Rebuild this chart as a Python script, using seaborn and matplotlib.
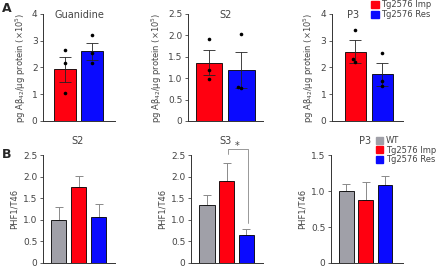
import matplotlib
matplotlib.use("Agg")
import numpy as np
import pandas as pd
import matplotlib.pyplot as plt
import seaborn as sb
from matplotlib.patches import Patch

sb.set_style("ticks")
plt.rcParams['font.family'] = ['DejaVu Sans']
plt.rcParams['font.size'] = 6

# colores
c_wt, c_imp, c_res = '#a0a0a8', '#ff0010', '#0a0aff'
txt = '#444444'

# Datos panel A (pg Ab42/ug protein x10^5)
grupos_a = ['Tg2576 Imp', 'Tg2576 Res']
guan_media = [1.93, 2.60]
guan_sem = [0.47, 0.32]
guan_imp = [2.66, 2.15, 1.04]
guan_res = [3.22, 2.55, 2.18]

s2a_media = [1.36, 1.18]
s2a_sem = [0.29, 0.42]
s2a_imp = [1.92, 1.19, 0.97]
s2a_res = [2.02, 0.78, 0.80]

p3a_media = [2.59, 1.74]
p3a_sem = [0.43, 0.42]
p3a_imp = [3.40, 2.30, 2.20]
p3a_res = [2.53, 1.50, 1.32]

# Datos panel B (PHF1/T46)
grupos_b = ['WT', 'Tg2576 Imp', 'Tg2576 Res']
s2b_media = [0.99, 1.76, 1.06]
s2b_sem = [0.31, 0.25, 0.31]
s3b_media = [1.34, 1.91, 0.66]
s3b_sem = [0.23, 0.41, 0.13]
p3b_media = [0.995, 0.88, 1.09]
p3b_sem = [0.10, 0.25, 0.12]

fig = plt.figure(figsize=(4.36, 2.67), dpi=100)

def estilo(ax, ymax, yticks, ylabel, xlim):
    ax.set_ylim(0, ymax)
    ax.set_yticks(yticks)
    ax.set_xlim(*xlim)
    ax.set_xticks([])
    ax.set_xlabel('')
    ax.set_ylabel(ylabel, fontsize=6, color=txt, labelpad=3)
    ax.tick_params(axis='y', labelsize=6.5, colors=txt, length=2.5, width=0.6, pad=1.5)
    for s in ['top', 'right']:
        ax.spines[s].set_visible(False)
    for s in ['left', 'bottom']:
        ax.spines[s].set_linewidth(0.7)
        ax.spines[s].set_color('#333333')

def panel_a(rect, media, sem, imp, res, ymax, yticks, titulo, tpos, xlim, ancho):
    ax = fig.add_axes(rect)
    df = pd.DataFrame({'grupo': grupos_a, 'valor': media})
    sb.barplot(data=df, x='grupo', y='valor', hue='grupo', palette=[c_imp, c_res],
               saturation=1, width=ancho, edgecolor='black', linewidth=0.6,
               legend=False, ax=ax)
    ax.errorbar(range(2), media, yerr=sem, fmt='none', ecolor='#222222',
                elinewidth=0.6, capsize=4, capthick=0.6, zorder=4)
    pts = pd.DataFrame({'grupo': [grupos_a[0]] * len(imp) + [grupos_a[1]] * len(res),
                        'valor': imp + res})
    sb.swarmplot(data=pts, x='grupo', y='valor', color='black', size=2.6, ax=ax, zorder=5)
    estilo(ax, ymax, yticks, 'pg A\u03b2$_{42}$/\u03bcg protein (\u00d710$^5$)', xlim)
    ax.text(tpos, ymax * 0.99, titulo, ha='center', va='center', fontsize=7, color=txt)
    return ax

def panel_b(rect, media, sem, ymax, yticks, titulo, xlim):
    ax = fig.add_axes(rect)
    df = pd.DataFrame({'grupo': grupos_b, 'valor': media})
    sb.barplot(data=df, x='grupo', y='valor', hue='grupo', palette=[c_wt, c_imp, c_res],
               saturation=1, width=0.77, edgecolor='black', linewidth=0.6,
               legend=False, ax=ax, zorder=3)
    ax.errorbar(range(3), media, yerr=[np.zeros(3), sem], fmt='none', ecolor='#8a8a8a',
                elinewidth=0.7, capsize=3, capthick=0.7, zorder=2)
    estilo(ax, ymax, yticks, 'PHF1/T46', xlim)
    ax.text(0.95, ymax * 1.13, titulo, ha='center', va='center', fontsize=7, color=txt)
    return ax

a1 = panel_a([0.099, 0.547, 0.165, 0.401], guan_media, guan_sem, guan_imp, guan_res,
             4, [0, 1, 2, 3, 4], 'Guanidine', 0.55, (-0.83, 1.89), 0.83)
a2 = panel_a([0.431, 0.547, 0.172, 0.401], s2a_media, s2a_sem, s2a_imp, s2a_res,
             2.5, [0, 0.5, 1.0, 1.5, 2.0, 2.5], 'S2', 0.5, (-0.65, 1.66), 0.82)
a2.set_yticklabels(['0', '0.5', '1.0', '1.5', '2.0', '2.5'])
a3 = panel_a([0.761, 0.547, 0.163, 0.401], p3a_media, p3a_sem, p3a_imp, p3a_res,
             4, [0, 1, 2, 3, 4], 'P3', -0.1, (-0.87, 1.76), 0.78)

b1 = panel_b([0.099, 0.015, 0.165, 0.404], s2b_media, s2b_sem, 2.5,
             [0, 0.5, 1.0, 1.5, 2.0, 2.5], 'S2', (-0.78, 2.83))
b2 = panel_b([0.438, 0.015, 0.165, 0.404], s3b_media, s3b_sem, 2.5,
             [0, 0.5, 1.0, 1.5, 2.0, 2.5], 'S3', (-0.81, 2.84))
b3 = panel_b([0.759, 0.015, 0.165, 0.404], p3b_media, p3b_sem, 1.5,
             [0, 0.5, 1.0, 1.5], 'P3', (-0.8, 2.93))
for ax in [b1, b2, b3]:
    ax.set_yticklabels(['0'] + [f'{t:.1f}' for t in ax.get_yticks()[1:]])

# corchete de significancia
b2.plot([1.05, 1.05, 2.1, 2.1], [2.52, 2.64, 2.64, 0.93], color='#888888', lw=0.6,
        clip_on=False)
b2.text(1.55, 2.72, '*', ha='center', va='center', fontsize=7, color=txt)

# leyendas
fig.legend(handles=[Patch(color=c_imp), Patch(color=c_res)], labels=grupos_a,
           loc='upper left', bbox_to_anchor=(0.852, 1.0), frameon=False, fontsize=6,
           handlelength=0.9, handleheight=0.9, handletextpad=0.3, labelspacing=0.15,
           borderaxespad=0, borderpad=0, labelcolor=txt)
fig.legend(handles=[Patch(color=c_wt), Patch(color=c_imp), Patch(color=c_res)],
           labels=grupos_b, loc='upper left', bbox_to_anchor=(0.862, 0.49),
           frameon=False, fontsize=6, handlelength=0.9, handleheight=0.9,
           handletextpad=0.3, labelspacing=0.05, borderaxespad=0, borderpad=0,
           labelcolor=txt)

fig.text(0.005, 0.97, 'A', fontsize=9, fontweight='bold', va='center')
fig.text(0.005, 0.42, 'B', fontsize=9, fontweight='bold', va='center')

fig.savefig('out.png', dpi=100)
